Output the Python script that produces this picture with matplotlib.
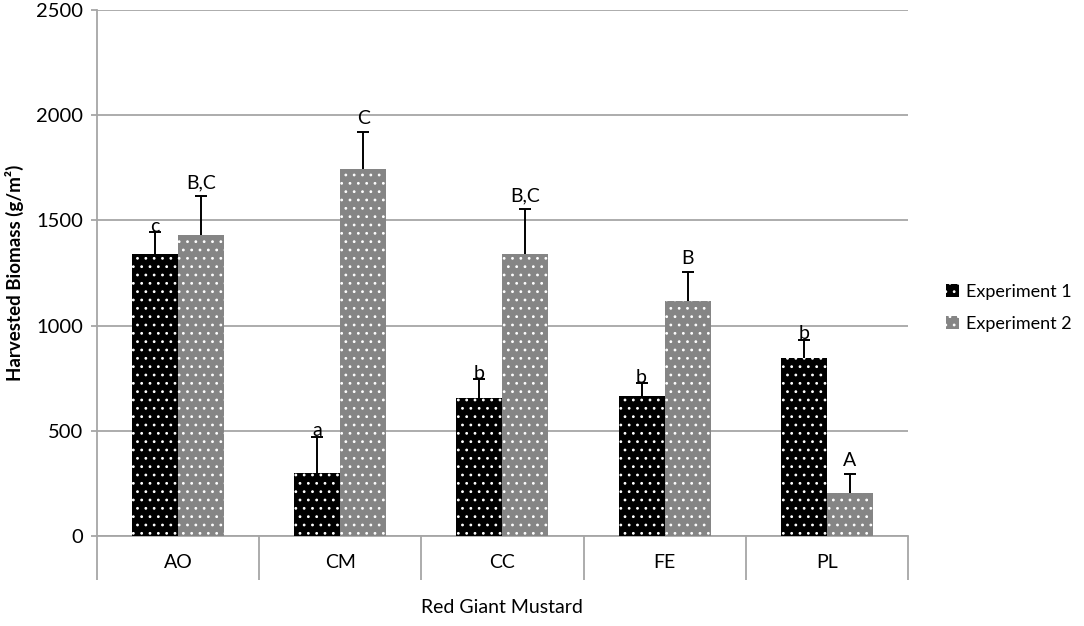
import numpy as np
import matplotlib.pyplot as plt
from matplotlib.patches import Patch

plt.rcParams['font.family'] = ['Lato', 'DejaVu Sans']
plt.rcParams['hatch.linewidth'] = 0.8

categories = ['AO', 'CM', 'CC', 'FE', 'PL']
exp1 = [1340, 301, 657, 664, 847]
exp1_err = [103, 171, 88, 62, 85]
exp2 = [1431, 1744, 1340, 1117, 203]
exp2_err = [186, 178, 214, 139, 92]
exp1_letters = ['c', 'a', 'b', 'b', 'b']
exp2_letters = ['B,C', 'C', 'B,C', 'B', 'A']

grid_c = '#a6a6a6'
gray_fill = '#858585'
fig = plt.figure(figsize=(10.84, 6.26), dpi=100)
ax = fig.add_axes([0.0895, 0.1438, 0.748, 0.8402])

x = np.arange(len(categories))
w = 0.284

ax.bar(x - w / 2, exp1, w, color='black', edgecolor='white', hatch='..',
       linewidth=0, zorder=3)
ax.bar(x + w / 2, exp2, w, color=gray_fill, edgecolor='white', hatch='..',
       linewidth=0, zorder=3)

# plus-only error bars (Excel style)
for xs, vals, errs in [(x - w / 2, exp1, exp1_err), (x + w / 2, exp2, exp2_err)]:
    tops = np.array(vals) + np.array(errs)
    ax.vlines(xs, vals, tops, color='black', linewidth=1.4, zorder=4)
    ax.plot(xs, tops, linestyle='none', marker='_', markersize=8,
            markeredgewidth=1.4, color='black', zorder=4)

for i in range(len(categories)):
    ax.text(x[i] - w / 2, exp1[i] + exp1_err[i] - 12, exp1_letters[i], ha='center',
            va='bottom', fontsize=14)
    ax.text(x[i] + w / 2, exp2[i] + exp2_err[i] + 22, exp2_letters[i], ha='center',
            va='bottom', fontsize=14)

ax.set_xlim(-0.5, len(categories) - 0.5)
ax.set_ylim(0, 2500)
ax.set_yticks(np.arange(0, 2501, 500))
ax.yaxis.grid(True, color=grid_c, linewidth=1.3, zorder=0)
ax.set_axisbelow(True)

for s in ['top', 'right']:
    ax.spines[s].set_visible(False)
ax.spines['left'].set_color(grid_c)
ax.spines['bottom'].set_color(grid_c)
ax.spines['left'].set_linewidth(1.3)
ax.spines['bottom'].set_linewidth(1.3)

ax.set_xticks(x)
ax.set_xticklabels(categories, fontsize=14)
ax.tick_params(axis='x', which='major', length=0, pad=13)
ax.set_xticks(np.arange(-0.5, len(categories)), minor=True)
ax.tick_params(axis='x', which='minor', length=32, color=grid_c, width=1.3)
ax.tick_params(axis='y', labelsize=14.5, length=4, color=grid_c, width=1.3, pad=6)

# left axis line continues below the category row
ax.plot([-0.5, -0.5], [0, -0.172], transform=ax.get_yaxis_transform(),
        color=grid_c, linewidth=1.3, clip_on=False)

ax.set_xlabel('Red Giant Mustard', fontsize=14, labelpad=10)
ax.set_ylabel('Harvested Biomass (g/m²)', fontsize=13.5, fontweight='bold',
              labelpad=9)

handles = [Patch(facecolor='black', edgecolor='white', hatch='..', linewidth=0),
           Patch(facecolor=gray_fill, edgecolor='white', hatch='..', linewidth=0)]
fig.legend(handles, ['Experiment 1', 'Experiment 2'], loc='center left',
           bbox_to_anchor=(0.858, 0.508), frameon=False, fontsize=13,
           handlelength=0.7, handleheight=0.7, handletextpad=0.4, labelspacing=0.9)

fig.savefig('out.png', dpi=100)
